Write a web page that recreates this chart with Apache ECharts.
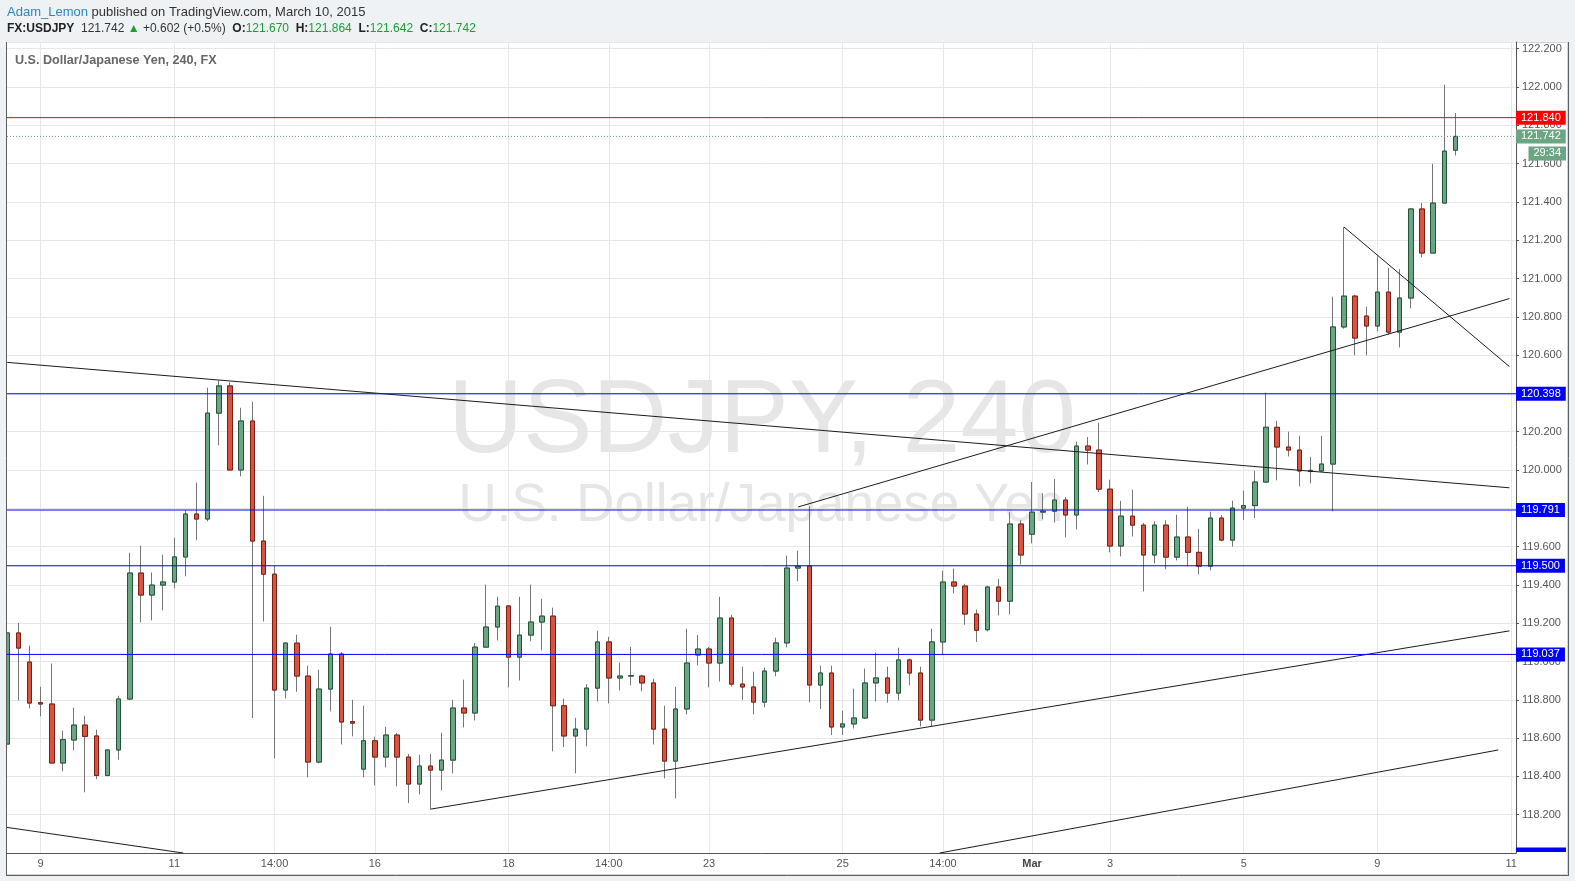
<!DOCTYPE html>
<html><head><meta charset="utf-8">
<script src="https://cdn.jsdelivr.net/npm/echarts@6/dist/echarts.min.js"></script>
<style>html,body{margin:0;padding:0;background:#eff2f5;}#c{width:1575px;height:881px;}</style>
</head><body><div id="c"></div>
<script>
// ---- data (USDJPY 4H) ----
const opens = [118.569,119.149,118.997,118.785,118.778,118.470,118.590,118.668,118.611,118.405,
118.538,118.804,119.462,119.347,119.399,119.415,119.546,119.770,119.744,120.297,
120.439,120.000,120.256,119.629,119.456,118.851,119.096,118.924,118.475,118.856,
119.039,118.686,118.438,118.586,118.501,118.616,118.501,118.360,118.454,118.433,
118.485,118.757,118.731,119.075,119.180,119.290,119.023,119.138,119.206,119.237,
118.769,118.611,118.647,118.861,119.102,118.914,118.924,118.924,118.888,118.647,
118.480,118.752,119.034,119.065,118.992,119.227,118.882,118.867,118.788,118.950,
119.097,119.488,119.499,118.877,118.940,118.658,118.674,118.705,118.888,118.914,
118.835,119.008,118.940,118.694,119.102,119.415,119.394,119.248,119.166,119.389,
119.315,119.718,119.665,119.780,119.785,119.843,119.765,120.125,120.104,119.900,
119.603,119.759,119.712,119.556,119.712,119.545,119.650,119.570,119.498,119.749,
119.634,119.801,119.814,119.937,120.223,120.120,120.104,119.992,119.995,120.031,
120.747,120.908,120.804,120.752,120.929,120.720,120.898,121.363,121.133,121.394,
121.670];
const closes = [119.149,119.070,118.783,118.778,118.470,118.592,118.668,118.609,118.405,118.538,
118.804,119.462,119.347,119.399,119.415,119.546,119.770,119.744,120.297,120.439,
120.000,120.256,119.629,119.456,118.851,119.096,118.924,118.475,118.856,119.039,
118.684,118.678,118.586,118.501,118.616,118.501,118.360,118.454,118.433,118.485,
118.757,118.731,119.075,119.180,119.289,119.023,119.138,119.206,119.237,118.769,
118.611,118.647,118.861,119.102,118.914,118.924,118.926,118.888,118.647,118.480,
118.752,118.992,119.065,118.992,119.227,118.882,118.867,118.788,118.950,119.097,
119.488,119.497,118.877,118.940,118.658,118.674,118.705,118.888,118.914,118.835,
119.008,118.940,118.694,119.102,119.415,119.394,119.248,119.163,119.389,119.315,
119.718,119.556,119.780,119.785,119.843,119.765,120.125,120.104,119.900,119.603,
119.759,119.712,119.556,119.712,119.545,119.650,119.570,119.498,119.749,119.634,
119.801,119.814,119.937,120.223,120.120,120.104,119.995,119.998,120.031,120.747,
120.908,120.689,120.752,120.929,120.720,120.898,121.363,121.133,121.394,121.665,
121.742];
const lows = [118.560,118.797,118.755,118.714,118.468,118.426,118.536,118.317,118.386,118.400,
118.487,118.800,119.204,119.215,119.267,119.382,119.445,119.633,119.732,120.129,
120.000,119.967,118.705,119.209,118.494,118.807,118.842,118.395,118.468,118.739,
118.567,118.609,118.395,118.353,118.447,118.348,118.261,118.306,118.229,118.327,
118.416,118.656,118.692,119.075,119.110,118.865,118.901,119.105,119.058,118.531,
118.553,118.416,118.557,118.792,118.781,118.849,118.875,118.844,118.567,118.390,
118.285,118.724,118.980,118.865,118.896,118.870,118.800,118.724,118.761,118.923,
119.074,119.419,118.787,118.752,118.616,118.616,118.650,118.700,118.792,118.785,
118.797,118.875,118.661,118.661,119.034,119.356,119.192,119.102,119.157,119.241,
119.246,119.507,119.617,119.742,119.726,119.648,119.690,120.029,119.885,119.570,
119.549,119.653,119.366,119.512,119.481,119.528,119.497,119.455,119.476,119.627,
119.600,119.740,119.749,119.937,119.946,120.071,119.915,119.930,119.990,119.784,
120.738,120.599,120.599,120.724,120.706,120.640,120.844,121.110,121.133,121.394,
121.642];
const highs = [119.192,119.201,119.083,118.868,118.989,118.639,118.759,118.717,118.644,118.540,
118.821,119.568,119.605,119.465,119.558,119.646,119.789,119.934,120.430,120.468,
120.458,120.325,120.357,119.865,119.500,119.101,119.140,118.978,118.957,119.181,
119.049,118.800,118.769,118.607,118.659,118.626,118.517,118.513,118.518,118.628,
118.800,118.905,119.096,119.401,119.338,119.295,119.338,119.401,119.328,119.281,
118.806,118.706,118.881,119.161,119.129,118.994,119.077,118.931,118.910,118.769,
118.868,119.171,119.138,119.076,119.338,119.244,118.973,118.947,118.968,119.124,
119.553,119.579,119.810,118.978,118.978,118.743,118.858,118.963,119.046,118.973,
119.072,119.015,118.973,119.171,119.474,119.485,119.406,119.271,119.396,119.432,
119.780,119.738,119.937,119.879,119.953,119.859,120.148,120.172,120.247,119.949,
119.839,119.897,119.723,119.733,119.738,119.766,119.808,119.693,119.782,119.765,
119.840,119.892,119.996,120.404,120.257,120.200,120.179,120.069,120.179,120.905,
121.269,120.915,120.853,121.116,121.055,121.049,121.368,121.394,121.599,122.012,
121.864];
const tickIndex  = [3, 15, 24, 33, 45, 54, 63, 75, 84, 92, 99, 111, 123, 135];
const tickLabels = ['9','11','14:00','16','18','14:00','23','25','14:00','Mar','3','5','9','11'];
const supportLevels = [120.398, 119.791, 119.500, 119.037];
const hiddenLevel = 117.990;
const resistanceLevel = 121.840;
const lastPrice = 121.742;
const countdown = '29:34';
const trendLines = [
  [[0, 120.562], [134.85, 119.907]],
  [[71, 119.807], [134.85, 120.895]],
  [[120, 121.269], [134.85, 120.540]],
  [[38, 118.229], [134.85, 119.160]],
  [[-1, 118.142], [15.8, 118.0]],
  [[83.7, 118.0], [133.85, 118.538]]
];
const header = {user:'Adam_Lemon', pub:' published on TradingView.com, March 10, 2015',
  sym:'FX:USDJPY', last:'121.742', chg:'+0.602 (+0.5%)', o:'121.670', h:'121.864', l:'121.642', c:'121.742'};
const title = 'U.S. Dollar/Japanese Yen, 240, FX';
const wm1 = 'USDJPY, 240', wm2 = 'U.S. Dollar/Japanese Yen';

// ---- chart ----
const FONT = '"Liberation Sans", Arial, sans-serif';
const idx = opens.map((_, i) => i);
const wickData = idx.map(i => [i, opens[i], closes[i], lows[i], highs[i]]);
const bodyData = idx.map(i => [i, opens[i], closes[i], Math.min(opens[i], closes[i]), Math.max(opens[i], closes[i])]);
const X_MIN = -0.02, X_MAX = 135.44;
const BLUE = '#0000ff', RED = '#ff0000', GREEN = '#6ba583';

const chart = echarts.init(document.getElementById('c'), null, {renderer: 'canvas'});

const series = [
  {
    type: 'candlestick', name: 'wick', data: wickData, encode: {x: 0, y: [1, 2, 3, 4]},
    barWidth: 5, silent: true, z: 2,
    itemStyle: {color: 'rgba(0,0,0,0)', color0: 'rgba(0,0,0,0)', borderColor: '#767676', borderColor0: '#767676', borderColorDoji: '#767676', borderWidth: 1}
  },
  {
    type: 'candlestick', name: 'body', data: bodyData, encode: {x: 0, y: [1, 2, 3, 4]},
    barWidth: 5, silent: true, z: 3,
    itemStyle: {color: GREEN, color0: '#d75442', borderColor: '#225437', borderColor0: '#7a1f12', borderColorDoji: '#7a1f12', borderWidth: 1}
  }
];
trendLines.forEach(ln => {
  series.push({
    type: 'line', data: ln, showSymbol: false, symbol: 'none', silent: true, clip: true, z: 4,
    lineStyle: {color: '#1c1c1c', width: 1}
  });
});
function hLine(v, color, type) {
  return {
    type: 'line', data: [[X_MIN, v], [X_MAX, v]], showSymbol: false, symbol: 'none', silent: true, clip: true, z: 5,
    lineStyle: {color: color, width: 1, type: type}
  };
}
supportLevels.forEach(v => series.push(hLine(v, BLUE, 'solid')));
series.push(hLine(resistanceLevel, RED, 'solid'));
series.push(hLine(lastPrice, '#5f9c7a', [1, 2]));

chart.setOption({
  animation: false,
  backgroundColor: '#eff2f5',
  grid: {left: 7, right: 59, top: 42, bottom: 28, containLabel: false},
  xAxis: {
    type: 'value', min: X_MIN, max: X_MAX,
    axisLine: {show: true, onZero: false, lineStyle: {color: '#555', width: 1}},
    axisTick: {show: false, customValues: tickIndex},
    axisLabel: {
      customValues: tickIndex, color: '#555', fontSize: 11, fontFamily: FONT, margin: 5,
      formatter: v => { const k = tickIndex.indexOf(Math.round(v)); const t = k >= 0 ? tickLabels[k] : ''; return t === 'Mar' ? '{b|Mar}' : t; },
      rich: {b: {fontWeight: 'bold', color: '#444', fontSize: 11, fontFamily: FONT}}
    },
    splitLine: {show: true, lineStyle: {color: '#e7e7e7', width: 1}}
  },
  yAxis: {
    type: 'value', position: 'right', min: 118.0, max: 122.235, interval: 0.2, scale: true,
    axisLine: {show: true, onZero: false, lineStyle: {color: '#555', width: 1}},
    axisTick: {show: true, length: 3, lineStyle: {color: '#555'}},
    axisLabel: {formatter: v => v.toFixed(3), color: '#555', fontSize: 11, fontFamily: FONT, margin: 6, showMinLabel: false, showMaxLabel: false},
    splitLine: {show: true, lineStyle: {color: '#e7e7e7', width: 1}}
  },
  series: series
});

// positions derived from the chart's scales
const px = v => chart.convertToPixel({gridIndex: 0}, [X_MAX, v]);
const xR = px(lastPrice)[0];
const pBottom = chart.convertToPixel({gridIndex: 0}, [X_MIN, 118.0]);
function priceTag(v, bg, dy, alignRight, txt) {
  const p = px(v);
  return {type: 'text', z: 60, silent: true, style: {
    text: txt !== undefined ? txt : v.toFixed(3), x: alignRight ? xR + 50 : xR, y: p[1] + (dy || 0),
    align: alignRight ? 'right' : 'left', verticalAlign: 'middle',
    fill: '#fff', font: '11px ' + FONT, backgroundColor: bg, padding: [2, 5, 1, 5]}};
}
const tags = supportLevels.map(v => priceTag(v, BLUE));
tags.push(priceTag(resistanceLevel, RED));
tags.push(priceTag(lastPrice, GREEN));
tags.push(priceTag(lastPrice, GREEN, 17, true, countdown));
const pHidden = px(hiddenLevel);

chart.setOption({
  graphic: [
    {type: 'rect', z: -100, silent: true, shape: {x: 6.5, y: 42.5, width: 1561, height: 832}, style: {fill: '#ffffff', stroke: '#d2d6da', lineWidth: 1}},
    {type: 'line', z: 50, silent: true, shape: {x1: 6.5, y1: 42, x2: 6.5, y2: 875}, style: {stroke: '#5f5f5f', lineWidth: 1}},
    {type: 'line', z: 50, silent: true, shape: {x1: 1568.5, y1: 42, x2: 1568.5, y2: 875}, style: {stroke: '#5f5f5f', lineWidth: 1}},
    {type: 'line', z: 50, silent: true, shape: {x1: 6, y1: 875.5, x2: 1569, y2: 875.5}, style: {stroke: '#5f5f5f', lineWidth: 1}},
    {type: 'rect', z: 49, silent: true, shape: {x: 0, y: 43, width: 6, height: 832}, style: {fill: '#eff2f5'}},
    {type: 'text', z: 1, silent: true, style: {text: wm1, x: 762, y: 423, align: 'center', verticalAlign: 'middle', fill: '#e6e6e6', font: '104px ' + FONT}},
    {type: 'text', z: 1, silent: true, style: {text: wm2, x: 761, y: 506, align: 'center', verticalAlign: 'middle', fill: '#e6e6e6', font: '53px ' + FONT}},
    {type: 'text', z: 10, silent: true, style: {text: title, x: 15, y: 61, verticalAlign: 'middle', fill: '#666', font: 'bold 12.6px ' + FONT}},
    {type: 'text', z: 10, silent: true, style: {
      text: '{a|' + header.user + '}{b|' + header.pub + '}', x: 7, y: 12, verticalAlign: 'middle',
      rich: {a: {fill: '#2a87c4', font: '13px ' + FONT}, b: {fill: '#333', font: '13px ' + FONT}}}},
    {type: 'text', z: 10, silent: true, style: {
      text: '{k|' + header.sym + '}{v|  ' + header.last + ' }{g|▲}{v| ' + header.chg + '  }{k|O:}{n|' + header.o + '}{k|  H:}{n|' + header.h + '}{k|  L:}{n|' + header.l + '}{k|  C:}{n|' + header.c + '}',
      x: 7, y: 29, verticalAlign: 'middle',
      rich: {k: {fill: '#222', font: 'bold 12px ' + FONT}, v: {fill: '#333', font: '12px ' + FONT},
             g: {fill: '#1e9e35', font: '12px ' + FONT}, n: {fill: '#1e9e35', font: '12px ' + FONT}}}},
    {type: 'rect', z: 60, silent: true, shape: {x: xR, y: pHidden[1] - 7.5, width: 50, height: Math.max(0, pBottom[1] - 1 - (pHidden[1] - 7.5))}, style: {fill: BLUE}}
  ].concat(tags)
});
</script></body></html>
